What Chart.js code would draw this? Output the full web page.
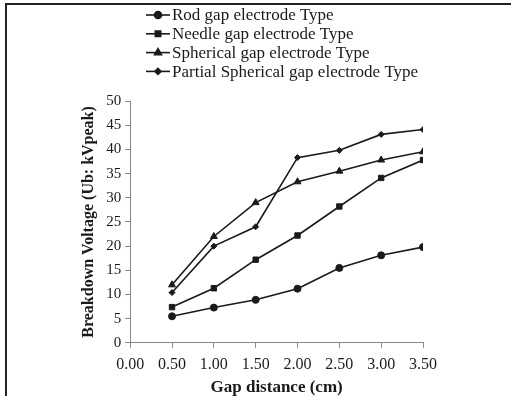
<!DOCTYPE html>
<html>
<head>
<meta charset="utf-8">
<script src="https://cdn.jsdelivr.net/npm/chart.js@4"></script>
<style>
  body { margin: 0; background: #fff; }
  #wrap { width: 511px; height: 396px; position: relative; }
</style>
</head>
<body>
<div id="wrap"><canvas id="myChart" width="511" height="396"></canvas></div>
<script>
const gapDistance = [0.5, 1.0, 1.5, 2.0, 2.5, 3.0, 3.5]
const rodGap = [5.5, 7.3, 8.9, 11.2, 15.5, 18.1, 19.8]
const needleGap = [7.4, 11.3, 17.2, 22.2, 28.2, 34.1, 37.8]
const sphericalGap = [12.0, 22.0, 29.0, 33.3, 35.5, 37.8, 39.5]
const partialSphericalGap = [10.4, 20.0, 24.0, 38.3, 39.8, 43.1, 44.1]
const seriesNames = ["Rod gap electrode Type", "Needle gap electrode Type", "Spherical gap electrode Type", "Partial Spherical gap electrode Type"]

const serif = "'Liberation Serif', 'Times New Roman', serif"
const ink = "#1a1a1a"

const toPoints = (vals) => vals.map((v, i) => ({x: gapDistance[i], y: v}))

const makeSet = (label, vals, style, radius) => ({
    label,
    data: toPoints(vals),
    borderColor: ink,
    backgroundColor: ink,
    borderWidth: 1.6,
    pointStyle: style,
    pointRadius: radius,
    pointBorderWidth: 1,
    tension: 0
})

// legend drawn by hand: short line with marker, then the series name
const legendLines = {
    id: 'legendLines',
    afterDraw(chart) {
        const ctx = chart.ctx
        ctx.save()
        ctx.font = "17px " + serif
        ctx.fillStyle = ink
        ctx.textBaseline = 'middle'
        chart.data.datasets.forEach((ds, i) => {
            const y = 15 + i * 18.8
            const x0 = 146
            ctx.strokeStyle = ink
            ctx.lineWidth = 1.6
            ctx.beginPath()
            ctx.moveTo(x0, y)
            ctx.lineTo(x0 + 24, y)
            ctx.stroke()
            Chart.helpers.drawPoint(ctx, {pointStyle: ds.pointStyle, radius: ds.pointRadius, borderWidth: 1}, x0 + 12, y)
            ctx.fillText(ds.label, x0 + 26, y + 1)
        })
        ctx.restore()
    }
}

const frame = {
    id: 'frame',
    beforeDraw(chart) {
        const ctx = chart.ctx
        ctx.save()
        ctx.fillStyle = '#fff'
        ctx.fillRect(0, 0, chart.width, chart.height)
        ctx.strokeStyle = '#222'
        ctx.lineWidth = 2
        ctx.beginPath()
        ctx.moveTo(6, 396)
        ctx.lineTo(6, 4)
        ctx.lineTo(511, 4)
        ctx.stroke()
        ctx.restore()
    }
}

const ctx1 = document.getElementById("myChart").getContext('2d')

new Chart(ctx1, {
    type: 'line',
    data: {
        datasets: [
            makeSet(seriesNames[0], rodGap, 'circle', 3.5),
            makeSet(seriesNames[1], needleGap, 'rect', 3.8),
            makeSet(seriesNames[2], sphericalGap, 'triangle', 4),
            makeSet(seriesNames[3], partialSphericalGap, 'rectRot', 3)
        ]
    },
    options: {
        responsive: false,
        animation: false,
        layout: {padding: {top: 101, right: 88, left: 75, bottom: -2}},
        plugins: {legend: {display: false}, tooltip: {enabled: false}},
        scales: {
            x: {
                type: 'linear',
                min: 0,
                max: 3.5,
                ticks: {
                    stepSize: 0.5,
                    color: ink,
                    font: {family: serif, size: 16},
                    maxRotation: 0,
                    padding: 7.5,
                    callback: (v) => v.toFixed(2)
                },
                grid: {drawOnChartArea: false, tickLength: 5, color: '#888'},
                border: {color: '#888', width: 1},
                title: {display: true, text: 'Gap distance (cm)', color: ink, font: {family: serif, size: 17, weight: 'bold'}, padding: {top: -4.5, bottom: 0}}
            },
            y: {
                min: 0,
                max: 50,
                ticks: {
                    stepSize: 5,
                    color: ink,
                    font: {family: serif, size: 15},
                    padding: 4
                },
                grid: {drawOnChartArea: false, tickLength: 5, color: '#888'},
                border: {color: '#888', width: 1},
                title: {display: true, text: 'Breakdown Voltage (Ub: kVpeak)', color: ink, font: {family: serif, size: 16, weight: 'bold'}, padding: {bottom: 4}}
            }
        }
    },
    plugins: [frame, legendLines]
})
</script>
</body>
</html>
